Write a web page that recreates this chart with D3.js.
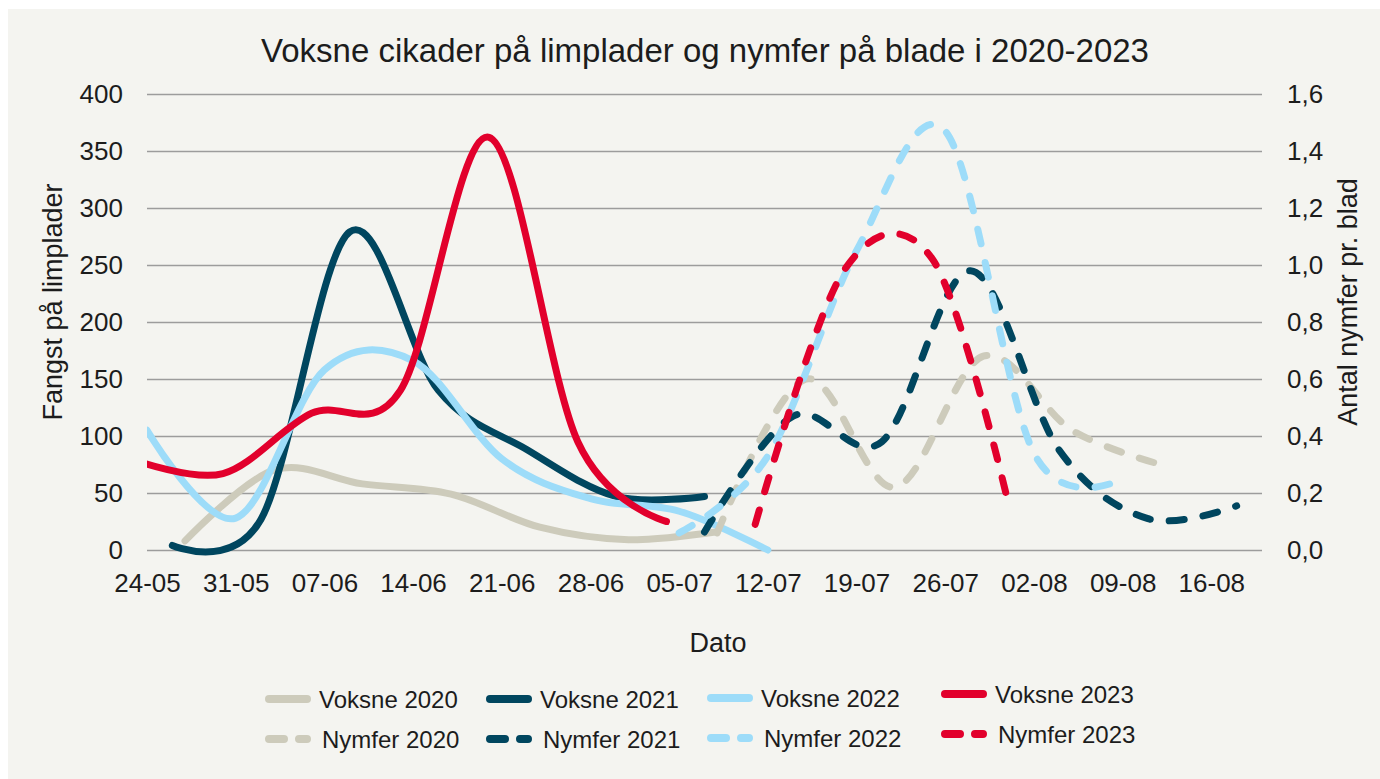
<!DOCTYPE html>
<html>
<head>
<meta charset="utf-8">
<script src="https://cdn.jsdelivr.net/npm/d3@7"></script>
<style>
body { margin: 0; background: #ffffff; }
svg { display: block; font-family: "Liberation Sans", Arial, sans-serif; }
</style>
</head>
<body>
<div id="chart"></div>
<script>
// x axis tick labels (dd-mm), weekly
var tickLabels = ["24-05", "31-05", "07-06", "14-06", "21-06", "28-06", "05-07",
    "12-07", "19-07", "26-07", "02-08", "09-08", "16-08"];
var leftTicks = [0, 50, 100, 150, 200, 250, 300, 350, 400];
var rightTicks = [0, 0.2, 0.4, 0.6, 0.8, 1.0, 1.2, 1.4, 1.6];

// Voksne (fangst paa limplader) - left axis
var voksne2020Dates = ["27-05", "03-06", "10-06", "17-06", "24-06", "01-07", "08-07"];
var voksne2020 = [8, 70, 58, 49, 20, 9, 16];
var voksne2021Dates = ["26-05", "02-06", "09-06", "16-06", "23-06", "30-06", "07-07"];
var voksne2021 = [4, 27, 279, 140, 88, 47, 47];
var voksne2022Dates = ["24-05", "31-05", "07-06", "14-06", "21-06", "28-06", "05-07", "12-07"];
var voksne2022 = [105, 28, 158, 166, 80, 45, 34, 0];
var voksne2023Dates = ["23-05", "30-05", "06-06", "13-06", "20-06", "27-06", "04-07"];
var voksne2023 = [79, 67, 120, 140, 362, 95, 25];

// Nymfer (antal pr. blad) - right axis
var nymfer2020Dates = ["08-07", "15-07", "22-07", "29-07", "05-08", "12-08"];
var nymfer2020 = [0.06, 0.6, 0.22, 0.68, 0.42, 0.3];
var nymfer2021Dates = ["07-07", "14-07", "21-07", "28-07", "04-08", "11-08", "18-08"];
var nymfer2021 = [0.063, 0.47, 0.38, 0.98, 0.35, 0.11, 0.155];
var nymfer2022Dates = ["05-07", "12-07", "19-07", "26-07", "02-08", "09-08"];
var nymfer2022 = [0.06, 0.33, 1.05, 1.47, 0.34, 0.25];
var nymfer2023Dates = ["11-07", "18-07", "25-07", "31-07"];
var nymfer2023 = [0.09, 0.98, 1.02, 0.16];

var seriesNames = ["Voksne 2020", "Voksne 2021", "Voksne 2022", "Voksne 2023",
    "Nymfer 2020", "Nymfer 2021", "Nymfer 2022", "Nymfer 2023"];

var yearColors = ["#cdcbbb", "#00465f", "#9ddcf9", "#e2002c"];

var parseDay = d3.timeParse("%d-%m");

var toPoints = function (dates, values) {
    return dates.map(function (d, i) { return { date: parseDay(d), value: values[i] }; });
};

var series = [
    { name: seriesNames[0], data: toPoints(voksne2020Dates, voksne2020), axis: "left", year: 0 },
    { name: seriesNames[1], data: toPoints(voksne2021Dates, voksne2021), axis: "left", year: 1 },
    { name: seriesNames[2], data: toPoints(voksne2022Dates, voksne2022), axis: "left", year: 2 },
    { name: seriesNames[3], data: toPoints(voksne2023Dates, voksne2023), axis: "left", year: 3 },
    { name: seriesNames[4], data: toPoints(nymfer2020Dates, nymfer2020), axis: "right", year: 0 },
    { name: seriesNames[5], data: toPoints(nymfer2021Dates, nymfer2021), axis: "right", year: 1 },
    { name: seriesNames[6], data: toPoints(nymfer2022Dates, nymfer2022), axis: "right", year: 2 },
    { name: seriesNames[7], data: toPoints(nymfer2023Dates, nymfer2023), axis: "right", year: 3 }
];

var width = 1380, height = 779;
var plotLeft = 147, plotRight = 1262, plotTop = 94, plotBottom = 550;
var textColor = "#1c1c1c";

var svg = d3.select("#chart").append("svg")
    .attr("width", width)
    .attr("height", height);

svg.append("rect")
    .attr("x", 8).attr("y", 9)
    .attr("width", width - 8).attr("height", height - 9)
    .attr("fill", "#f4f4f0");

var xScale = d3.scaleTime()
    .domain([parseDay("24-05"), parseDay("20-08")])
    .range([plotLeft, plotRight]);
var yLeft = d3.scaleLinear().domain([0, 400]).range([plotBottom, plotTop]);
var yRight = d3.scaleLinear().domain([0, 1.6]).range([plotBottom, plotTop]);

// gridlines
var grid = svg.append("g")
    .attr("transform", "translate(" + plotLeft + ",0)")
    .call(d3.axisLeft(yLeft).tickValues(leftTicks).tickSize(-(plotRight - plotLeft)).tickFormat(""));
grid.select(".domain").remove();
grid.selectAll("line").attr("stroke", "#9c9c9c").attr("stroke-width", 1.5);

// axes labels
var leftAxis = svg.append("g")
    .attr("transform", "translate(" + plotLeft + ",0)")
    .call(d3.axisLeft(yLeft).tickValues(leftTicks).tickSize(0).tickPadding(24));
var rightAxis = svg.append("g")
    .attr("transform", "translate(" + plotRight + ",0)")
    .call(d3.axisRight(yRight).tickValues(rightTicks).tickSize(0).tickPadding(25)
        .tickFormat(function (d) { return d3.format(".1f")(d).replace(".", ","); }));
var bottomAxis = svg.append("g")
    .attr("transform", "translate(0," + plotBottom + ")")
    .call(d3.axisBottom(xScale).tickValues(tickLabels.map(parseDay)).tickSize(0).tickPadding(23.5)
        .tickFormat(d3.timeFormat("%d-%m")));

[leftAxis, rightAxis, bottomAxis].forEach(function (g) {
    g.select(".domain").remove();
    g.selectAll("text")
        .attr("font-family", "'Liberation Sans', Arial, sans-serif")
        .attr("font-size", 26)
        .attr("fill", textColor);
});

// clip to the date range
svg.append("clipPath").attr("id", "plotclip")
    .append("rect")
    .attr("x", plotLeft).attr("y", 0)
    .attr("width", plotRight - plotLeft + 20).attr("height", height);

var lines = svg.append("g").attr("clip-path", "url(#plotclip)");

series.forEach(function (s) {
    var yScale = s.axis === "left" ? yLeft : yRight;
    var line = d3.line()
        .x(function (d) { return xScale(d.date); })
        .y(function (d) { return yScale(d.value); })
        .curve(d3.curveCardinal.tension(0));
    lines.append("path")
        .datum(s.data)
        .attr("d", line)
        .attr("fill", "none")
        .attr("stroke", yearColors[s.year])
        .attr("stroke-width", 7)
        .attr("stroke-linecap", "round")
        .attr("stroke-linejoin", "round")
        .attr("stroke-dasharray", s.axis === "right" ? "15 19" : null);
});

// title
svg.append("text")
    .attr("x", 705).attr("y", 62)
    .attr("text-anchor", "middle")
    .attr("font-size", 33)
    .attr("fill", textColor)
    .text("Voksne cikader på limplader og nymfer på blade i 2020-2023");

// axis titles
svg.append("text")
    .attr("transform", "translate(62,302) rotate(-90)")
    .attr("text-anchor", "middle")
    .attr("font-size", 27)
    .attr("fill", textColor)
    .text("Fangst på limplader");

svg.append("text")
    .attr("transform", "translate(1357,302) rotate(-90)")
    .attr("text-anchor", "middle")
    .attr("font-size", 27)
    .attr("fill", textColor)
    .text("Antal nymfer pr. blad");

svg.append("text")
    .attr("x", 718).attr("y", 652)
    .attr("text-anchor", "middle")
    .attr("font-size", 27)
    .attr("fill", textColor)
    .text("Dato");

// legend
var legendCols = [265, 486, 707, 941];
var legendRowY = [699, 739];
var legendColShift = [0, 0, -1, -5];

series.forEach(function (s, i) {
    var col = s.year;
    var row = s.axis === "left" ? 0 : 1;
    var x0 = legendCols[col];
    var y0 = legendRowY[row] + legendColShift[col];
    var g = svg.append("g");
    g.append("line")
        .attr("x1", x0 + 4).attr("x2", x0 + 42)
        .attr("y1", y0).attr("y2", y0)
        .attr("stroke", yearColors[s.year])
        .attr("stroke-width", 8)
        .attr("stroke-linecap", "round")
        .attr("stroke-dasharray", row === 1 ? "15 15" : null);
    g.append("text")
        .attr("x", x0 + (row === 0 ? 54 : 57))
        .attr("y", y0 + 9)
        .attr("font-size", 24)
        .attr("fill", textColor)
        .text(s.name);
});
</script>
</body>
</html>
